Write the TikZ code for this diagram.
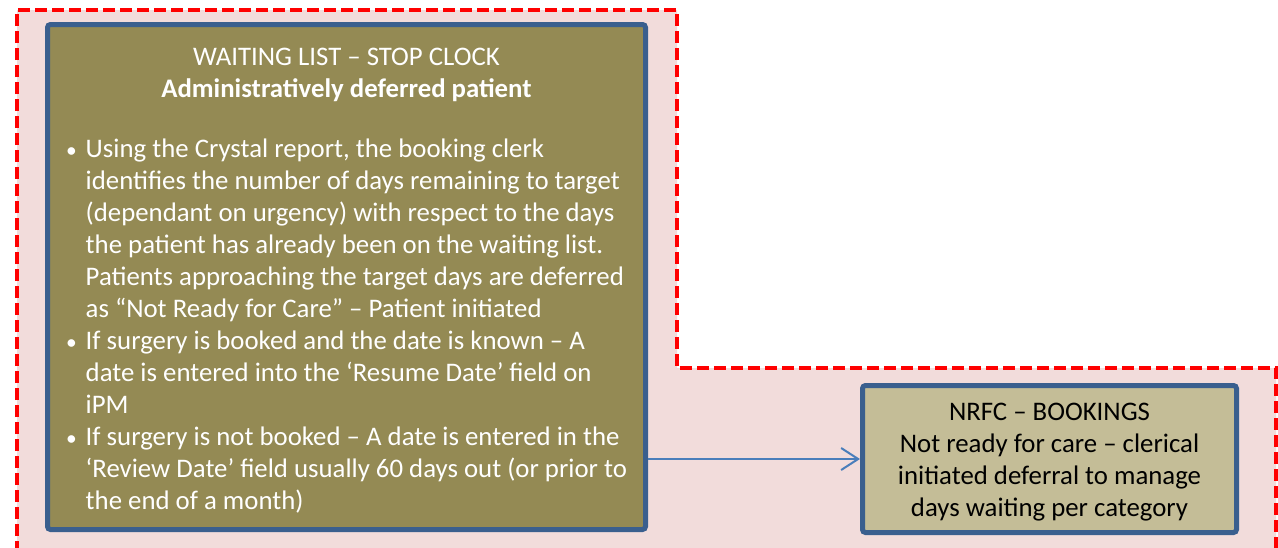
\documentclass[tikz,border=0pt]{standalone}
\usepackage{fontspec}
\setmainfont{Carlito}
\usepackage{tikz}
\usetikzlibrary{arrows.meta, positioning}

\definecolor{zonefill}{HTML}{F2DCDB}
\definecolor{zoneline}{HTML}{FF0000}
\definecolor{olivebox}{HTML}{948A54}
\definecolor{tanbox}{HTML}{C4BD97}
\definecolor{boxline}{HTML}{3A5F8E}
\definecolor{linkblue}{HTML}{4A7EBB}

\newcommand{\bul}{\scalebox{0.8}{\textbullet}}

\begin{document}
\begin{tikzpicture}[
    x=1pt, y=1pt,
    zone/.style={draw=zoneline, fill=zonefill, line width=4pt,
                dash pattern=on 12pt off 5pt},
    box/.style={rectangle, draw=boxline, line width=5pt, rounded corners=3pt,
                inner sep=0pt, align=center,
                font=\fontsize{26.8}{32}\selectfont},
    arrow/.style={-{Straight Barb[length=17pt, width=22pt, line width=2pt]},
                draw=linkblue, line width=2pt}
]

\useasboundingbox (0,0) rectangle (1278,-547);
\clip (0,0) rectangle (1278,-547);

%% AREA
\path[zone] (17,-570) -- (17,-10) -- (677,-10) -- (677,-368)
    -- (1276,-368) -- (1276,-570);

%% STOP CLOCK
\node[box, fill=olivebox, text=white, minimum width=598pt,
      minimum height=505pt] (stopclock) at (346.5,-277) {
    \rule{0pt}{31pt}WAITING LIST -- STOP CLOCK\\
    \textbf{Administratively deferred patient}\\[32pt]
    \begin{tabular}{@{}l@{\hspace{9pt}}l@{}}
    \bul & Using the Crystal report, the booking clerk\\
     & identifies the number of days remaining to target\\
     & (dependant on urgency) with respect to the days\\
     & the patient has already been on the waiting list.\\
     & Patients approaching the target days are deferred\\
     & as “Not Ready for Care” -- Patient initiated\\
    \bul & If surgery is booked and the date is known -- A\\
     & date is entered into the ‘Resume Date’ field on\\
     & iPM\\
    \bul & If surgery is not booked -- A date is entered in the\\
     & ‘Review Date’ field usually 60 days out (or prior to\\
     & the end of a month)
    \end{tabular}
};

%% NRFC
\node[box, fill=tanbox, text=black, minimum width=374pt,
      minimum height=147pt, right=212pt of stopclock.east,
      yshift=-182pt] (nrfc) {
    \rule{0pt}{23pt}NRFC -- BOOKINGS\\
    Not ready for care -- clerical\\
    initiated deferral to manage\\
    days waiting per category
};

\draw[arrow] (stopclock.east |- nrfc.west) -- (nrfc.west);

\end{tikzpicture}
\end{document}
